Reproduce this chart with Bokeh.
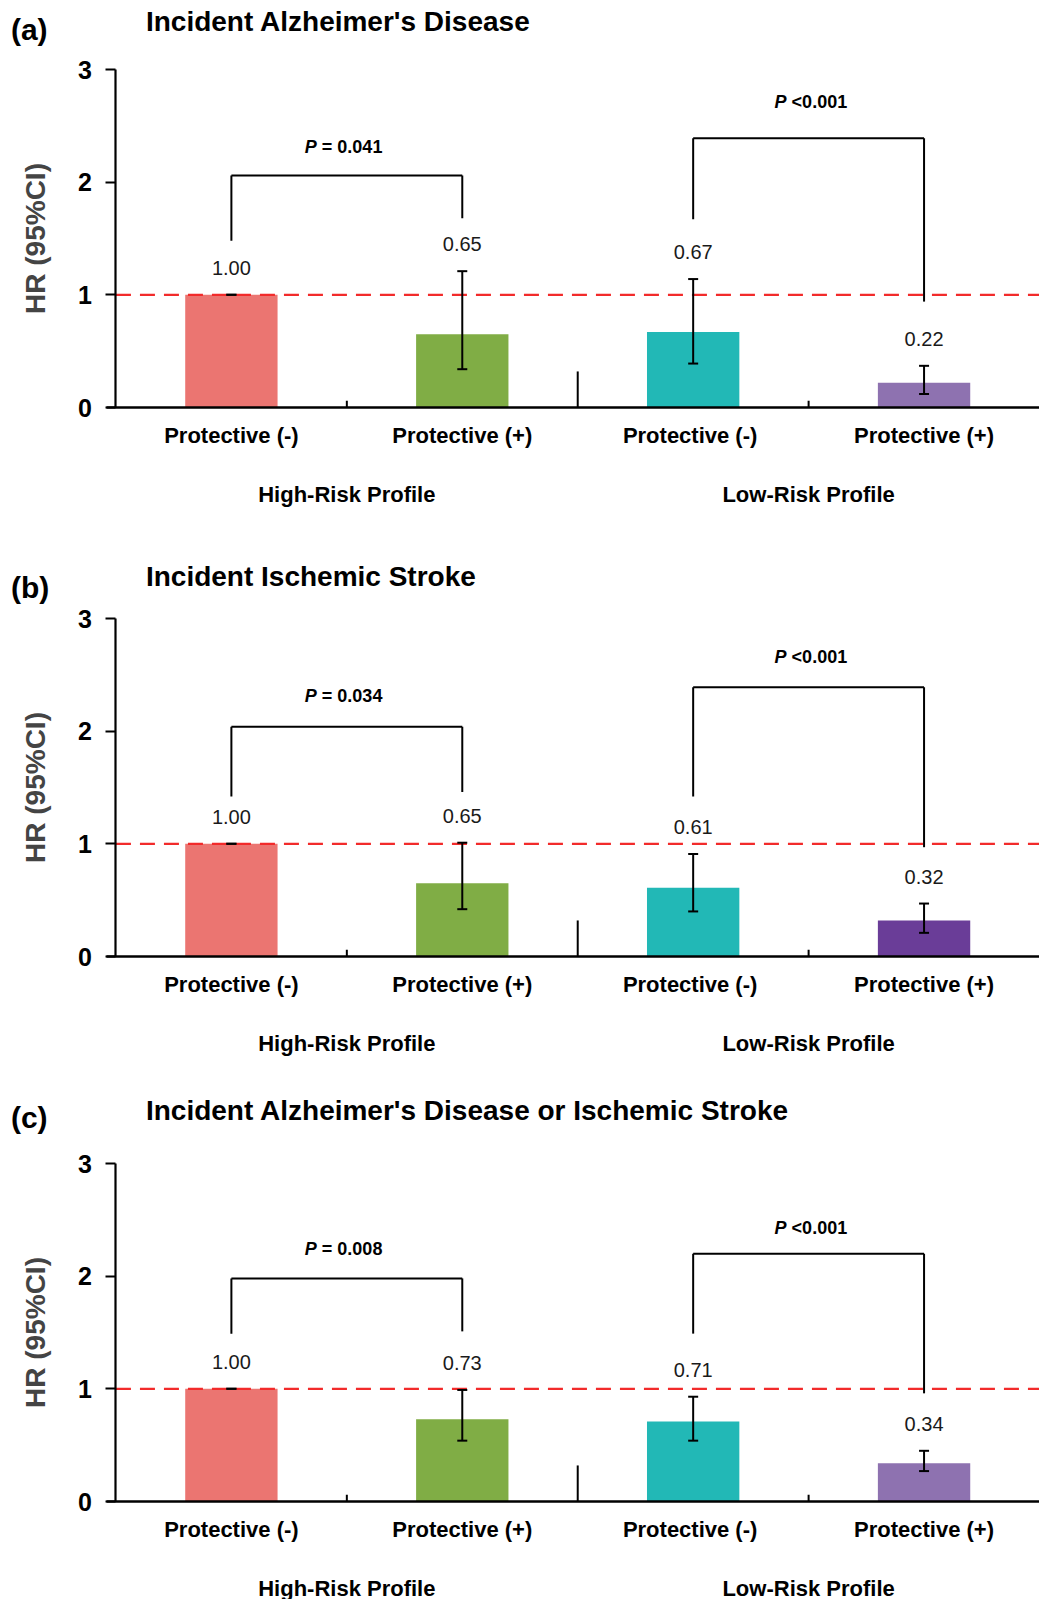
from bokeh.plotting import figure
from bokeh.models import (Range1d, Whisker, ColumnDataSource, LinearAxis, FixedTicker, TeeHead)
from bokeh.layouts import column
from bokeh.embed import file_html
from bokeh.resources import INLINE
from bokeh.core.properties import value

# ---------------- data ----------------
groups = ["High-Risk Profile", "Low-Risk Profile"]
categories = ["Protective (-)", "Protective (+)", "Protective  (-)", "Protective (+)"]
category_group = [0, 0, 1, 1]
panel_letters = ["(a)", "(b)", "(c)"]
panel_titles = ["Incident Alzheimer's Disease",
                "Incident Ischemic Stroke",
                "Incident  Alzheimer's Disease or  Ischemic Stroke"]

hr_a = [1.00, 0.65, 0.67, 0.22]
lo_a = [1.00, 0.34, 0.39, 0.12]
hi_a = [1.00, 1.21, 1.14, 0.37]

hr_b = [1.00, 0.65, 0.61, 0.32]
lo_b = [1.00, 0.42, 0.40, 0.21]
hi_b = [1.00, 1.01, 0.91, 0.47]

hr_c = [1.00, 0.73, 0.71, 0.34]
lo_c = [1.00, 0.54, 0.54, 0.27]
hi_c = [1.00, 0.99, 0.93, 0.45]

p_text_high = ["= 0.041", "= 0.034", "= 0.008"]
p_text_low = ["<0.001", "<0.001", "<0.001"]

# bracket heights (HR units): left leg bottom, top, right leg bottom, P label height
bracket_high_a = [1.48, 2.06, 1.68, 2.31]
bracket_low_a = [1.67, 2.39, 0.94, 2.71]
bracket_high_b = [1.42, 2.04, 1.46, 2.31]
bracket_low_b = [1.42, 2.39, 0.97, 2.66]
bracket_high_c = [1.49, 1.98, 1.51, 2.24]
bracket_low_c = [1.49, 2.20, 0.96, 2.43]

y_ticks = [0, 1, 2, 3]

colors_ac = ["#EB7571", "#80AD45", "#22B8B6", "#8E72B0"]
colors_b = ["#EB7571", "#80AD45", "#22B8B6", "#6A3D98"]

FONT = "Liberation Sans"

# ---------------- layout helpers ----------------
X_START, X_END = -0.5, 4.0
xc = [i + 0.5 for i in range(len(categories))]                       # bar centres
gc = [sum(x for x, g in zip(xc, category_group) if g == k) / 2 for k in range(2)]  # group centres
bounds_x = [i + 1 for i in range(len(categories) - 1)]               # category boundaries
Y_SPAN_PX = 338.0               # pixel height of the 0..3 HR span

panels = [
    dict(letter=panel_letters[0], title=panel_titles[0], hr=hr_a, lo=lo_a, hi=hi_a,
         bh=bracket_high_a, bl=bracket_low_a, ph=p_text_high[0], pl=p_text_low[0],
         colors=colors_ac, top=69, bottom=133, t_up=48, l_up=40),
    dict(letter=panel_letters[1], title=panel_titles[1], hr=hr_b, lo=lo_b, hi=hi_b,
         bh=bracket_high_b, bl=bracket_low_b, ph=p_text_high[1], pl=p_text_low[1],
         colors=colors_b, top=78, bottom=131, t_up=42, l_up=31),
    dict(letter=panel_letters[2], title=panel_titles[2], hr=hr_c, lo=lo_c, hi=hi_c,
         bh=bracket_high_c, bl=bracket_low_c, ph=p_text_high[2], pl=p_text_low[2],
         colors=colors_ac, top=76, bottom=98, t_up=53, l_up=46),
]

figs = []
for pn in panels:
    upp = 3.0 / Y_SPAN_PX          # HR units per pixel
    y_end = 3.0 + pn["top"] * upp
    y_start = -pn["bottom"] * upp
    p = figure(width=1039, height=int(pn["top"] + Y_SPAN_PX + pn["bottom"]),
               x_range=Range1d(X_START, X_END), y_range=Range1d(y_start, y_end),
               output_backend="svg", toolbar_location=None,
               min_border=0, min_border_left=0, min_border_right=0,
               min_border_top=0, min_border_bottom=0)
    p.background_fill_color = "white"
    p.border_fill_color = "white"
    p.outline_line_color = None
    p.xgrid.visible = False
    p.ygrid.visible = False

    src = ColumnDataSource(dict(x=xc, hr=pn["hr"], lo=pn["lo"], hi=pn["hi"],
                                color=pn["colors"],
                                lab=[f"{v:.2f}" for v in pn["hr"]],
                                laby=[h + 27 * upp for h in pn["hi"]]))

    p.vbar(x="x", top="hr", width=0.4, color="color", source=src, line_color=None)

    # reference line at HR = 1
    p.segment(x0=[0], y0=[1], x1=[X_END], y1=[1], line_color="#F22B2B",
              line_width=2.2, line_dash="15 9")

    whisk = Whisker(base="x", upper="hi", lower="lo", source=src,
                    line_color="black", line_width=2, level="overlay",
                    upper_head=TeeHead(size=10, line_color="black", line_width=2),
                    lower_head=TeeHead(size=10, line_color="black", line_width=2))
    p.add_layout(whisk)

    p.text(x="x", y="laby", text="lab", source=src, text_align="center",
           text_baseline="middle", text_font_size="20px", text_color="#1a1a1a",
           text_font=value(FONT))

    # inner tick marks on the x axis (tall one between the two profiles)
    tick_top = [0.06, 0.32, 0.06]
    p.segment(x0=bounds_x, y0=[0, 0, 0], x1=bounds_x, y1=tick_top,
              line_color="black", line_width=2)

    # significance brackets
    for k, br, ptxt in [(0, pn["bh"], pn["ph"]), (1, pn["bl"], pn["pl"])]:
        xs = [x for x, g in zip(xc, category_group) if g == k]
        xl, xr = xs[0], xs[1]
        p.segment(x0=[xl, xl, xr], y0=[br[0], br[1], br[2]],
                  x1=[xl, xr, xr], y1=[br[1], br[1], br[1]],
                  line_color="black", line_width=2)
        eq = ptxt.startswith("=")
        p.text(x=[gc[k]], y=[br[3]], text=["P"], text_align="left", text_baseline="middle",
               x_offset=-42 if eq else -34, text_font_size="18px",
               text_font_style="bold italic", text_font=value(FONT), text_color="black")
        p.text(x=[gc[k]], y=[br[3]], text=[ptxt], text_align="left", text_baseline="middle",
               x_offset=-25 if eq else -17, text_font_size="18px",
               text_font_style="bold", text_font=value(FONT), text_color="black")

    # titles
    p.text(x=[0], y=[3.0 + pn["t_up"] * upp], text=[pn["title"]], x_offset=30,
           text_baseline="middle", text_align="left", text_font_size="28px",
           text_font_style="bold", text_font=value(FONT), text_color="black")
    p.text(x=[0], y=[3.0 + pn["l_up"] * upp], text=[pn["letter"]], x_offset=-105,
           text_baseline="middle", text_align="left", text_font_size="30px",
           text_font_style="bold", text_font=value(FONT), text_color="black")

    # y axis, fixed at x = 0
    ya = p.yaxis[0]
    ya.fixed_location = 0
    ya.bounds = (0, 3)
    ya.ticker = FixedTicker(ticks=y_ticks)
    ya.axis_label = "HR (95%CI)"
    ya.axis_label_text_font = FONT
    ya.axis_label_text_font_size = "28px"
    ya.axis_label_text_font_style = "bold"
    ya.axis_label_standoff = 24
    ya.major_label_text_font = FONT
    ya.major_label_text_font_size = "25px"
    ya.major_label_text_font_style = "bold"
    ya.major_label_text_color = "black"
    ya.major_label_standoff = 14
    ya.axis_line_width = 2.2
    ya.major_tick_line_width = 2.2
    ya.major_tick_out = 10
    ya.major_tick_in = 0
    ya.minor_tick_line_color = None

    # x axis (categories), fixed at y = 0
    xa = p.xaxis[0]
    xa.fixed_location = 0
    xa.bounds = (-0.04, X_END)
    xa.ticker = FixedTicker(ticks=xc)
    xa.major_label_overrides = {x: c for x, c in zip(xc, categories)}
    xa.axis_line_width = 2.5
    xa.major_tick_line_color = None
    xa.minor_tick_line_color = None
    xa.major_tick_out = 0
    xa.major_tick_in = 0
    xa.major_label_standoff = 15
    xa.major_label_text_font = FONT
    xa.major_label_text_font_size = "22px"
    xa.major_label_text_font_style = "bold"
    xa.major_label_text_color = "black"

    # group labels on a second axis
    ga = LinearAxis(ticker=FixedTicker(ticks=gc),
                    major_label_overrides={x: g for x, g in zip(gc, groups)})
    ga.fixed_location = 0
    ga.axis_line_color = None
    ga.major_tick_line_color = None
    ga.minor_tick_line_color = None
    ga.major_tick_out = 0
    ga.major_tick_in = 0
    ga.major_label_standoff = 74
    ga.major_label_text_font = FONT
    ga.major_label_text_font_size = "22px"
    ga.major_label_text_font_style = "bold"
    ga.major_label_text_color = "black"
    p.add_layout(ga, "below")

    figs.append(p)

layout = column(*figs, spacing=0)
open("out.html", "w").write(file_html(layout, INLINE))
